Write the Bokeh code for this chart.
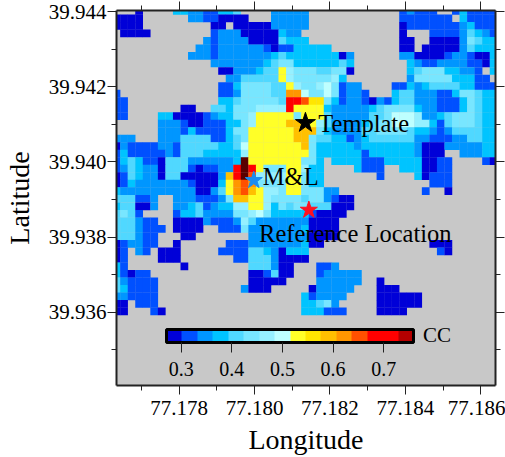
from bokeh.plotting import figure
from bokeh.models import (LinearAxis, FixedTicker, PrintfTickFormatter, LinearColorMapper,
                          ColorBar, ColumnDataSource, Range1d)
from bokeh.transform import transform
from bokeh.core.properties import value
from bokeh.embed import file_html
from bokeh.resources import INLINE

FONT = "Liberation Serif"
LON0, LAT0, STEP = 77.17634, 39.94402, 0.0002
LAT_TOP, LAT_BOTTOM = 39.94403, 39.93405

# CC level of each grid cell, one string per latitude row (top to bottom), '.' = no data.
ROWS = [
 "...0. ...33 22113 34... .2222 2.... ..... ...12 111.. 13111 1",
 "0000. ..... 22110 000.. .2222 2.... ..... ...11 11111 .3111 1",
 "0000. ..... ...00 .0000 02222 2.... ..... ...01 11111 12311 1",
 ".0000 ..... ...12 22000 00322 ..... ..... ...0. ..111 12432 1",
 "..... ..... ..212 22200 00433 3.... ..... ...00 ..000 02543 3",
 "..... ..... .2212 22222 10113 3333. ..... ...00 .0000 02433 3",
 "..... ..... 22212 22222 23433 33333 02... ...22 00001 22100 3",
 "..... ..... ...22 22222 34553 33333 43... ....3 21122 22110 3",
 "..... ..... ....0 02223 44865 55445 50... ....3 45553 3221. 3",
 "..... ..... ..... 22444 44865 55556 3.... ....2 55555 33311 .",
 "..... ..... ....1 13555 54486 55675 122.. ..113 23444 43311 1",
 "1.... ..... ....1 12555 544bb 75575 1221. ..344 22211 35543 3",
 "11... ..... ....3 34555 554dd c9953 12210 21344 22211 13543 3",
 "11... ....0 0..44 35556 666d8 88832 22223 45555 32211 13543 3",
 "11... .3300 00123 35568 88885 88842 22224 45777 62234 55543 3",
 "..... .2221 00111 33568 888aa a8642 22234 55777 66314 55543 3",
 "..... .2221 31111 35588 8888a aa532 22244 55554 33212 44443 3",
 "222.. .2224 44411 34588 8888a a5443 31234 44444 22111 22443 3",
 "02111 12214 44443 34788 88888 a5333 33233 33333 20002 22223 3",
 "13111 11214 44333 33688 88888 85333 33313 33333 2000. .2223 3",
 "13431 10444 22222 23g88 88888 553.3 33311 13333 30011 ....1 0",
 "12432 20444 10112 2dgd8 55588 633.. ..311 1..33 30011 ..... .",
 "01432 20440 00002 adgc6 66688 533.. ..... 1.... 30111 ..... .",
 "01322 22222 10003 8bcb5 55588 533.. ..... ..... ..111 ..... .",
 "32222 22222 20024 8bca8 66588 55522 ..... ..... .1..0 ..... .",
 "44411 2..22 21112 5aa88 65555 45521 00... ..... ..... ..... .",
 "34400 2..22 34123 36688 63545 54440 00... ..... ..... ..... .",
 "4541. ...13 34222 25567 53333 31000 0.... ..... ..... ..... .",
 "44421 1..00 00211 12642 22222 20000 ..... ..... ..... ..... .",
 "44421 11.00 00..1 11522 22222 30000 ..... ..... ..... ..... .",
 "44421 1...0 0.... ...22 22222 20000 ..... ..... ..... ..... .",
 "01221 1..0. ..... 11122 22222 300.. ..... ..... ..000 ..... .",
 "01.21 .000. ....1 11144 32033 3.... ..... ..... ...10 ..... .",
 "01... .000. ..... .1144 42000 0.... ..... ..... ..... ..... .",
 "31... ....0 ..... ...44 4200. ..112 ..... ..... ..... ..... .",
 "31011 ..... ..... ...00 1400. ..122 222.. ..... ..... ..... .",
 "42111 1.... ..... ...00 000.. ..222 222.. 0.... ..... ..... .",
 "43111 1.... ..... ..200 0.... .0222 22... 000.. ..... ..... .",
 "22111 1.... ..... ..... ..... 31222 2.... 00000 0.... ..... .",
 "00.11 1.... ..... ..... ..... 33452 ..... 00000 0.... ..... .",
 "00... 10... ..... ..... ..... 33311 1.... 0000. ..... ..... .",
]

PALETTE = ["#0000d8", "#0050ff", "#0096ff", "#00c4ff", "#50d8ff", "#78e6ff", "#96f0ff", "#beffff",
           "#ffff28", "#ffe600", "#ffc000", "#ff9600", "#ff5000", "#ff0000", "#ff0000", "#b40000"]
CC_LOW, CC_HIGH = 0.271, 0.759
LEVELS = "0123456789abcdefg"

x_major = [77.178, 77.180, 77.182, 77.184, 77.186]
x_minor = [77.177, 77.179, 77.181, 77.183, 77.185]
y_major = [39.936, 39.938, 39.940, 39.942, 39.944]
y_minor = [39.935, 39.937, 39.939, 39.941, 39.943]
cc_ticks = [0.3, 0.4, 0.5, 0.6, 0.7]

star_lon = [77.18135, 77.17998, 77.18144]
star_lat = [39.94104, 39.93951, 39.93872]
star_col = ["#000000", "#1a8cf0", "#ff1020"]
star_size = [21, 18, 18]

label_text = ["Template", "M&L", "Reference Location"]
label_lon = [77.18169, 77.18022, 77.18012]
label_lat = [39.94102, 39.93960, 39.93810]

lons, lats, ccs = [], [], []
dcc = (CC_HIGH - CC_LOW) / 16
for r, row in enumerate(ROWS):
    for c, ch in enumerate(row.replace(" ", "")):
        if ch != ".":
            lons.append(LON0 + c * STEP)
            lats.append(LAT0 - r * STEP)
            ccs.append(CC_LOW + (LEVELS.index(ch) + 0.5) * dcc)

mapper = LinearColorMapper(palette=PALETTE, low=CC_LOW, high=CC_HIGH, high_color="#5a0000")

p = figure(width=505, height=457, output_backend="svg", toolbar_location=None,
           x_range=Range1d(LON0, LON0 + 0.01005), y_range=Range1d(LAT_BOTTOM, LAT_TOP),
           min_border_left=116, min_border_top=10, min_border_right=10, min_border_bottom=69,
           background_fill_color="#c8c8c8", border_fill_color="#ffffff",
           x_axis_label="Longitude", y_axis_label="Latitude")
p.grid.visible = False

src = ColumnDataSource(dict(x=lons, y=lats, cc=ccs))
p.rect("x", "y", width=STEP * 1.03, height=STEP * 1.03, source=src,
       fill_color=transform("cc", mapper), line_color=None)

def style(ax, major, minor, fmt, labels=True):
    ax.ticker = FixedTicker(ticks=major, minor_ticks=minor)
    ax.major_tick_in = 0
    ax.major_tick_out = 9
    ax.minor_tick_in = 0
    ax.minor_tick_out = 5
    ax.major_tick_line_color = "#222222"
    ax.minor_tick_line_color = "#222222"
    ax.axis_line_color = "#222222"
    ax.axis_line_width = 2
    ax.major_tick_line_width = 1
    ax.minor_tick_line_width = 1
    ax.major_label_text_font = FONT
    ax.major_label_text_font_size = "21px"
    ax.major_label_text_color = "#000000"
    ax.axis_label_text_font = FONT
    ax.axis_label_text_font_size = "28px"
    ax.axis_label_text_font_style = "normal"
    ax.axis_label_text_color = "#000000"
    ax.formatter = PrintfTickFormatter(format=fmt)
    if not labels:
        ax.major_label_text_font_size = "0px"
        ax.major_label_text_alpha = 0
        ax.major_label_standoff = 0

style(p.below[0], x_major, x_minor, "%.3f")
style(p.left[0], y_major, y_minor, "%.3f")
p.left[0].major_label_orientation = "horizontal"
p.below[0].major_label_standoff = 6
p.left[0].major_label_standoff = 1
p.below[0].axis_label_standoff = 6
p.left[0].axis_label_standoff = 11

top = LinearAxis(); style(top, x_major, x_minor, "%.3f", labels=False)
right = LinearAxis(); style(right, y_major, y_minor, "%.3f", labels=False)
p.add_layout(top, "above")
p.add_layout(right, "right")
p.outline_line_color = None

p.scatter(star_lon, star_lat, marker="star", size=star_size, fill_color=star_col, line_color=star_col)
p.text(label_lon, label_lat, text=label_text, text_font=value(FONT), text_font_size=value("24.5px"),
       text_baseline="alphabetic", text_align="left", text_color="#000000")

cb = ColorBar(color_mapper=mapper, ticker=FixedTicker(ticks=cc_ticks), orientation="horizontal",
              width=247, height=13, location=(50, 7), padding=0, margin=0,
              background_fill_alpha=0, border_line_color=None,
              bar_line_color="#000000", bar_line_width=3,
              major_tick_in=0, major_tick_out=10, major_tick_line_color="#222222",
              major_label_text_font=FONT, major_label_text_font_size="20px",
              major_label_text_color="#000000", label_standoff=9,
              formatter=PrintfTickFormatter(format="%.1f"))
p.add_layout(cb, "center")
p.text([77.18447], [39.93540], text=["CC"], text_font=value(FONT), text_font_size=value("21px"),
       text_baseline="alphabetic", text_color="#000000")

open("out.html", "w").write(file_html(p, INLINE))
